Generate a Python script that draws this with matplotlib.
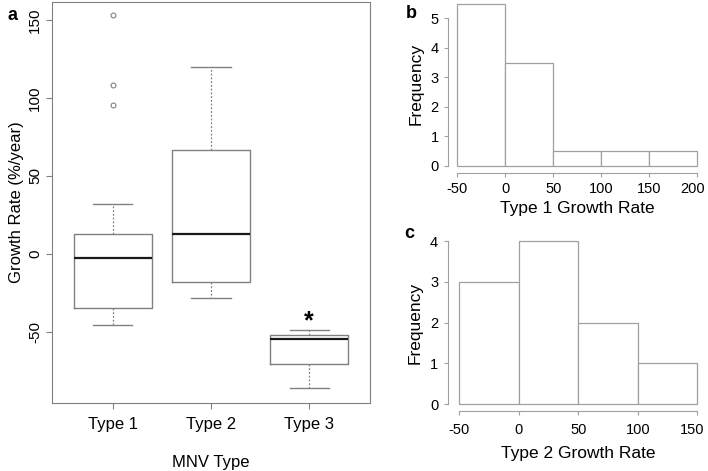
import matplotlib.pyplot as plt
from matplotlib.transforms import ScaledTranslation

plt.rcParams['font.family'] = ['Liberation Sans', 'DejaVu Sans']
plt.rcParams['axes.unicode_minus'] = False

# panel a: boxplot summary per MNV type
mnv_types = ["Type 1", "Type 2", "Type 3"]
box_whislo = [-45.5, -28.4, -86.0]
box_q1 = [-34.4, -17.7, -70.5]
box_med = [-2.6, 12.8, -54.7]
box_q3 = [13.0, 66.5, -52.0]
box_whishi = [32.0, 120.0, -48.7]
box_fliers = [[153.0, 108.0, 95.5], [], []]

# panel b: type 1 histogram
type1_edges = [-50, 0, 50, 100, 150, 200]
type1_freq = [5.5, 3.5, 0.5, 0.5, 0.5]

# panel c: type 2 histogram
type2_edges = [-50, 0, 50, 100, 150]
type2_freq = [3, 4, 2, 1]

W, H = 708, 471
GRAY = "#808080"
HGRAY = "#a0a0a0"


def px_axes(fig, x0, y0, x1, y1):
    return fig.add_axes([x0 / W, 1 - y1 / H, (x1 - x0) / W, (y1 - y0) / H])


def main():
    fig = plt.figure(figsize=(W / 100, H / 100), dpi=100)

    # ---- a
    ax = px_axes(fig, 52, 2, 370, 403)
    stats = []
    for i in range(len(mnv_types)):
        stats.append(dict(whislo=box_whislo[i], q1=box_q1[i], med=box_med[i],
                          q3=box_q3[i], whishi=box_whishi[i], fliers=box_fliers[i]))
    ax.bxp(stats, positions=[1, 2, 3], widths=0.8, showfliers=True,
           boxprops=dict(color=GRAY, lw=1.0),
           medianprops=dict(color="#1a1a1a", lw=1.6),
           whiskerprops=dict(color=GRAY, lw=0.9, ls=(0, (1.5, 1.5))),
           capprops=dict(color=GRAY, lw=1.0),
           capwidths=0.4,
           flierprops=dict(marker="o", markersize=3.5, markerfacecolor="none",
                           markeredgecolor=GRAY, markeredgewidth=0.8))
    ax.set_xlim(0.38, 3.62)
    ax.set_ylim(-95.5, 161.5)
    ax.set_xticks([1, 2, 3])
    ax.set_xticklabels(mnv_types)
    ax.set_yticks([-50, 0, 50, 100, 150])
    ax.set_yticklabels(["-50", "0", "50", "100", "150"], rotation=90, va="center")
    ax.tick_params(axis="x", labelsize=12, length=4, pad=6, color=GRAY)
    ax.tick_params(axis="y", labelsize=11, length=4, pad=3, color=GRAY)
    for s in ax.spines.values():
        s.set_color(GRAY)
    ax.set_xlabel("MNV Type", fontsize=12, labelpad=17)
    ax.set_ylabel("Growth Rate (%/year)", fontsize=12, labelpad=3)
    ax.text(3, -51, "*", ha="center", va="bottom", fontsize=18, fontweight="bold")

    # ---- b
    axb = px_axes(fig, 457.3, 2.7, 697.3, 165.7)
    axb.bar(type1_edges[:-1], type1_freq, width=50, align="edge",
            facecolor="white", edgecolor=HGRAY, lw=0.9, clip_on=False)
    axb.set_xlim(-50, 200)
    axb.set_ylim(0, 5.53)
    axb.set_xticks(type1_edges)
    axb.set_yticks([0, 1, 2, 3, 4, 5])
    axb.set_xlabel("Type 1 Growth Rate", fontsize=12.5, labelpad=3)
    axb.set_ylabel("Frequency", fontsize=12.5, labelpad=5)

    # ---- c
    axc = px_axes(fig, 459, 241.3, 697.3, 404)
    axc.bar(type2_edges[:-1], type2_freq, width=50, align="edge",
            facecolor="white", edgecolor=HGRAY, lw=0.9, clip_on=False)
    axc.set_xlim(-50, 150)
    axc.set_ylim(0, 4)
    axc.set_xticks(type2_edges)
    axc.set_yticks([0, 1, 2, 3, 4])
    axc.set_xlabel("Type 2 Growth Rate", fontsize=12.5, labelpad=6)
    axc.set_ylabel("Frequency", fontsize=12.5, labelpad=5)

    for a, lx in ((axb, 6.5), (axc, 8)):
        a.spines["top"].set_visible(False)
        a.spines["right"].set_visible(False)
        a.spines["bottom"].set_position(("outward", 5))
        a.spines["left"].set_position(("outward", lx))
        a.spines["bottom"].set_color(HGRAY)
        a.spines["left"].set_color(HGRAY)
        a.tick_params(labelsize=10.5, length=3, pad=4, color=HGRAY)
    axc.tick_params(axis="x", pad=6)
    axb.spines["bottom"].set_bounds(-50, 200)
    axb.spines["left"].set_bounds(0, 5)
    axc.spines["bottom"].set_bounds(-50, 150)
    axc.spines["left"].set_bounds(0, 4)

    # nudge the last x tick label so it stays inside the figure
    shift = ScaledTranslation(-5 / 100, 0, fig.dpi_scale_trans)
    for a in (axb, axc):
        lab = a.get_xticklabels()[-1]
        lab.set_transform(lab.get_transform() + shift)

    # panel letters
    fig.text(12 / W, 1 - 15 / H, "a", fontsize=13, fontweight="bold", ha="center", va="center")
    fig.text(411 / W, 1 - 14 / H, "b", fontsize=13, fontweight="bold", ha="center", va="center")
    fig.text(409 / W, 1 - 233 / H, "c", fontsize=13, fontweight="bold", ha="center", va="center")

    fig.savefig("out.png", dpi=100)


if __name__ == "__main__":
    main()
